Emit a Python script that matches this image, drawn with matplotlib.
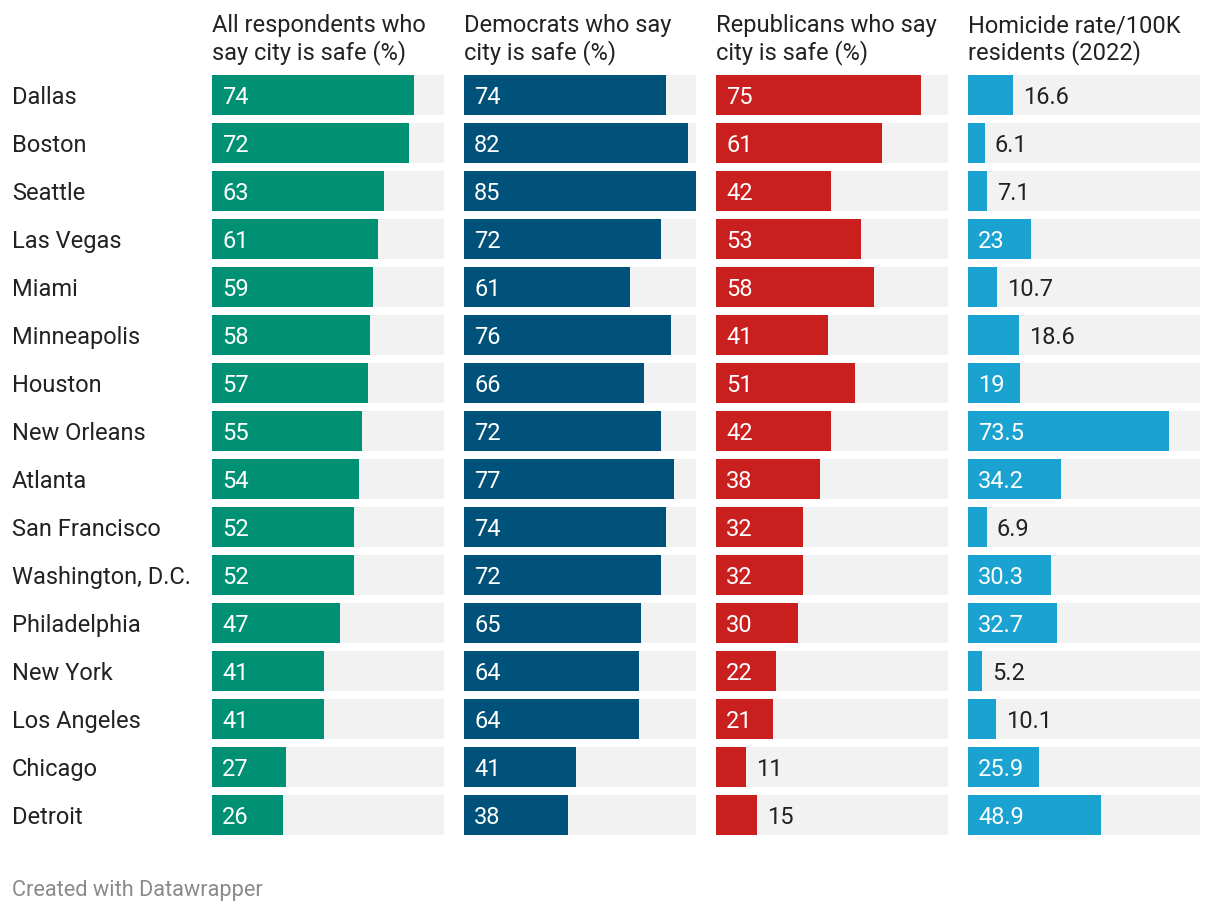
import matplotlib
matplotlib.use("Agg")
import matplotlib.pyplot as plt

cities = ["Dallas", "Boston", "Seattle", "Las Vegas", "Miami", "Minneapolis", "Houston",
          "New Orleans", "Atlanta", "San Francisco", "Washington, D.C.", "Philadelphia",
          "New York", "Los Angeles", "Chicago", "Detroit"]
all_resp = [74, 72, 63, 61, 59, 58, 57, 55, 54, 52, 52, 47, 41, 41, 27, 26]
democrats = [74, 82, 85, 72, 61, 76, 66, 72, 77, 74, 72, 65, 64, 64, 41, 38]
republicans = [75, 61, 42, 53, 58, 41, 51, 42, 38, 32, 32, 30, 22, 21, 11, 15]
homicide = [16.6, 6.1, 7.1, 23, 10.7, 18.6, 19, 73.5, 34.2, 6.9, 30.3, 32.7, 5.2, 10.1, 25.9, 48.9]
homicide_labels = ["16.6", "6.1", "7.1", "23", "10.7", "18.6", "19", "73.5", "34.2", "6.9",
                   "30.3", "32.7", "5.2", "10.1", "25.9", "48.9"]
headers = ["All respondents who\nsay city is safe (%)",
           "Democrats who say\ncity is safe (%)",
           "Republicans who say\ncity is safe (%)",
           "Homicide rate/100K\nresidents (2022)"]
colors = ["#009175", "#00527a", "#c91f1f", "#1aa3d0"]
xmax = 85

W, H = 1220, 912
plt.rcParams["font.family"] = ["Roboto", "DejaVu Sans"]
fig = plt.figure(figsize=(W / 100, H / 100), dpi=100)
fig.patch.set_facecolor("white")

series = [
    (all_resp, [str(v) for v in all_resp]),
    (democrats, [str(v) for v in democrats]),
    (republicans, [str(v) for v in republicans]),
    (homicide, homicide_labels),
]
lefts = [212, 464, 716, 968]
colw = 232
top_px, bot_px = 72, 840
n = len(cities)
renderer = fig.canvas.get_renderer()
txtcol = "#222222"
fs = 17
row_px = (bot_px - top_px) / n
base_off = 8 / row_px  # baseline offset from row centre, in data units

for i, ((vals, labs), left) in enumerate(zip(series, lefts)):
    ax = fig.add_axes([left / W, (H - bot_px) / H, colw / W, (bot_px - top_px) / H])
    ax.set_xlim(0, xmax)
    ax.set_ylim(n - 0.5, -0.5)
    ypos = list(range(n))
    ax.barh(ypos, [xmax] * n, height=40 / 48, color="#f2f2f2", linewidth=0)
    ax.barh(ypos, vals, height=40 / 48, color=colors[i], linewidth=0)
    ax.axis("off")
    px_per_unit = colw / xmax
    for y, v, lab in zip(ypos, vals, labs):
        t = ax.text(0, y + base_off, lab, fontsize=fs, va="baseline", ha="left", color="white")
        tw = t.get_window_extent(renderer=renderer).width
        barpx = v * px_per_unit
        if barpx >= tw + 20:
            t.set_position((10 / px_per_unit, y + base_off))
        else:
            t.set_position((v + 10 / px_per_unit, y + base_off))
            t.set_color(txtcol)
    l1, l2 = headers[i].split("\n")
    fig.text(left / W, 1 - 32 / H, l1, fontsize=fs, color=txtcol, ha="left", va="baseline")
    fig.text(left / W, 1 - 59 / H, l2, fontsize=fs, color=txtcol, ha="left", va="baseline")

for k, c in enumerate(cities):
    yb = 104 + 48 * k
    fig.text(12 / W, 1 - yb / H, c, fontsize=fs, color=txtcol, ha="left", va="baseline")

fig.text(12 / W, 1 - 896 / H, "Created with Datawrapper", fontsize=15.7, color="#8a8a8a",
         ha="left", va="baseline")

fig.savefig("out.png", dpi=100, facecolor="white")
